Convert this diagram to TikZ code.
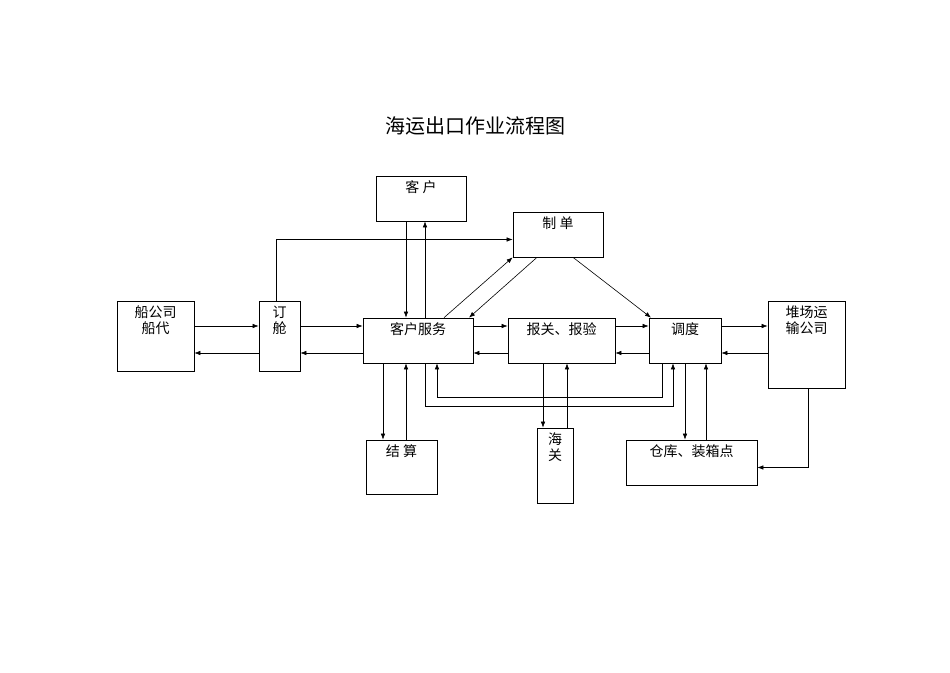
\documentclass[tikz,border=0pt]{standalone}
\usepackage{fontspec}
\newfontfamily\cjk{Noto Sans CJK SC}
\usetikzlibrary{arrows.meta,positioning}

\tikzset{
  box/.style={rectangle, draw, line width=0.7pt, inner sep=0pt},
  lbl/.style={anchor=north, font=\cjk\fontsize{14}{16}\selectfont, align=center, inner sep=0pt, yshift=-5pt},
  arr/.style={-{Latex[length=6pt,width=4.5pt]}, line width=0.6pt}
}
% box: name, left, top, width, height, text
\newcommand{\bx}[6]{%
  \node[box, minimum width=#4pt, minimum height=#5pt] (#1) at (#2+#4/2, #3+#5/2) {};
  \node[lbl] (#1t) at (#1.north) {#6};}

\begin{document}
\begin{tikzpicture}[x=1pt, y=-1pt]
  \useasboundingbox (0,0) rectangle (950,672);
  \node[font=\cjk\fontsize{20}{24}\selectfont] (title) at (475,126) {海运出口作业流程图};

  \bx{kh}{376}{176}{90}{45}{客 户}
  \bx{zd}{513}{212}{90}{45}{制 单}
  \bx{ch}{117}{301}{77}{70}{船公司\\船代}
  \bx{dc}{259}{301}{41}{70}{订\\舱}
  \bx{kf}{363}{318}{110}{45}{客户服务}
  \bx{bg}{508}{318}{107}{45}{报关、报验}
  \bx{dd}{649}{318}{72}{45}{调度}
  \bx{dy}{768}{301}{77}{87}{堆场运\\输公司}
  \bx{js}{366}{440}{71}{54}{结 算}
  \bx{hg}{537}{428}{36}{75}{海\\关}
  \bx{ck}{626}{440}{131}{45}{仓库、装箱点}

  % horizontal pairs
  \foreach \a/\b in {ch/dc, dc/kf, kf/bg, bg/dd, dd/dy} {
    \draw[arr] (\a.east |- 0,326) -- (\b.west |- 0,326);
    \draw[arr] (\b.west |- 0,353) -- (\a.east |- 0,353);
  }
  % vertical pairs
  \foreach \a/\b/\p/\q in {kh/kf/406/425, kf/js/383/406, bg/hg/543/567, dd/ck/685/706} {
    \draw[arr] (\p,0 |- \a.south) -- (\p,0 |- \b.north);
    \draw[arr] (\q,0 |- \b.north) -- (\q,0 |- \a.south);
  }
  % loops below
  \draw[arr] (425,0 |- kf.south) |- (673,406) -- (673,0 |- dd.south);
  \draw[arr] (662,0 |- dd.south) |- (437,397) -- (437,0 |- kf.south);
  % booking to documents
  \draw[arr] (276,0 |- dc.north) |- ([yshift=-5pt]zd.west);
  % diagonals
  \draw[arr] (444,0 |- kf.north) -- (zd.south west);
  \draw[arr] (537,0 |- zd.south) -- (469,0 |- kf.north);
  \draw[arr] (573,0 |- zd.south) -- (651,0 |- dd.north);
  % yard to warehouse
  \draw[arr] (808,0 |- dy.south) |- ([yshift=-5pt]ck.east);
\end{tikzpicture}
\end{document}
